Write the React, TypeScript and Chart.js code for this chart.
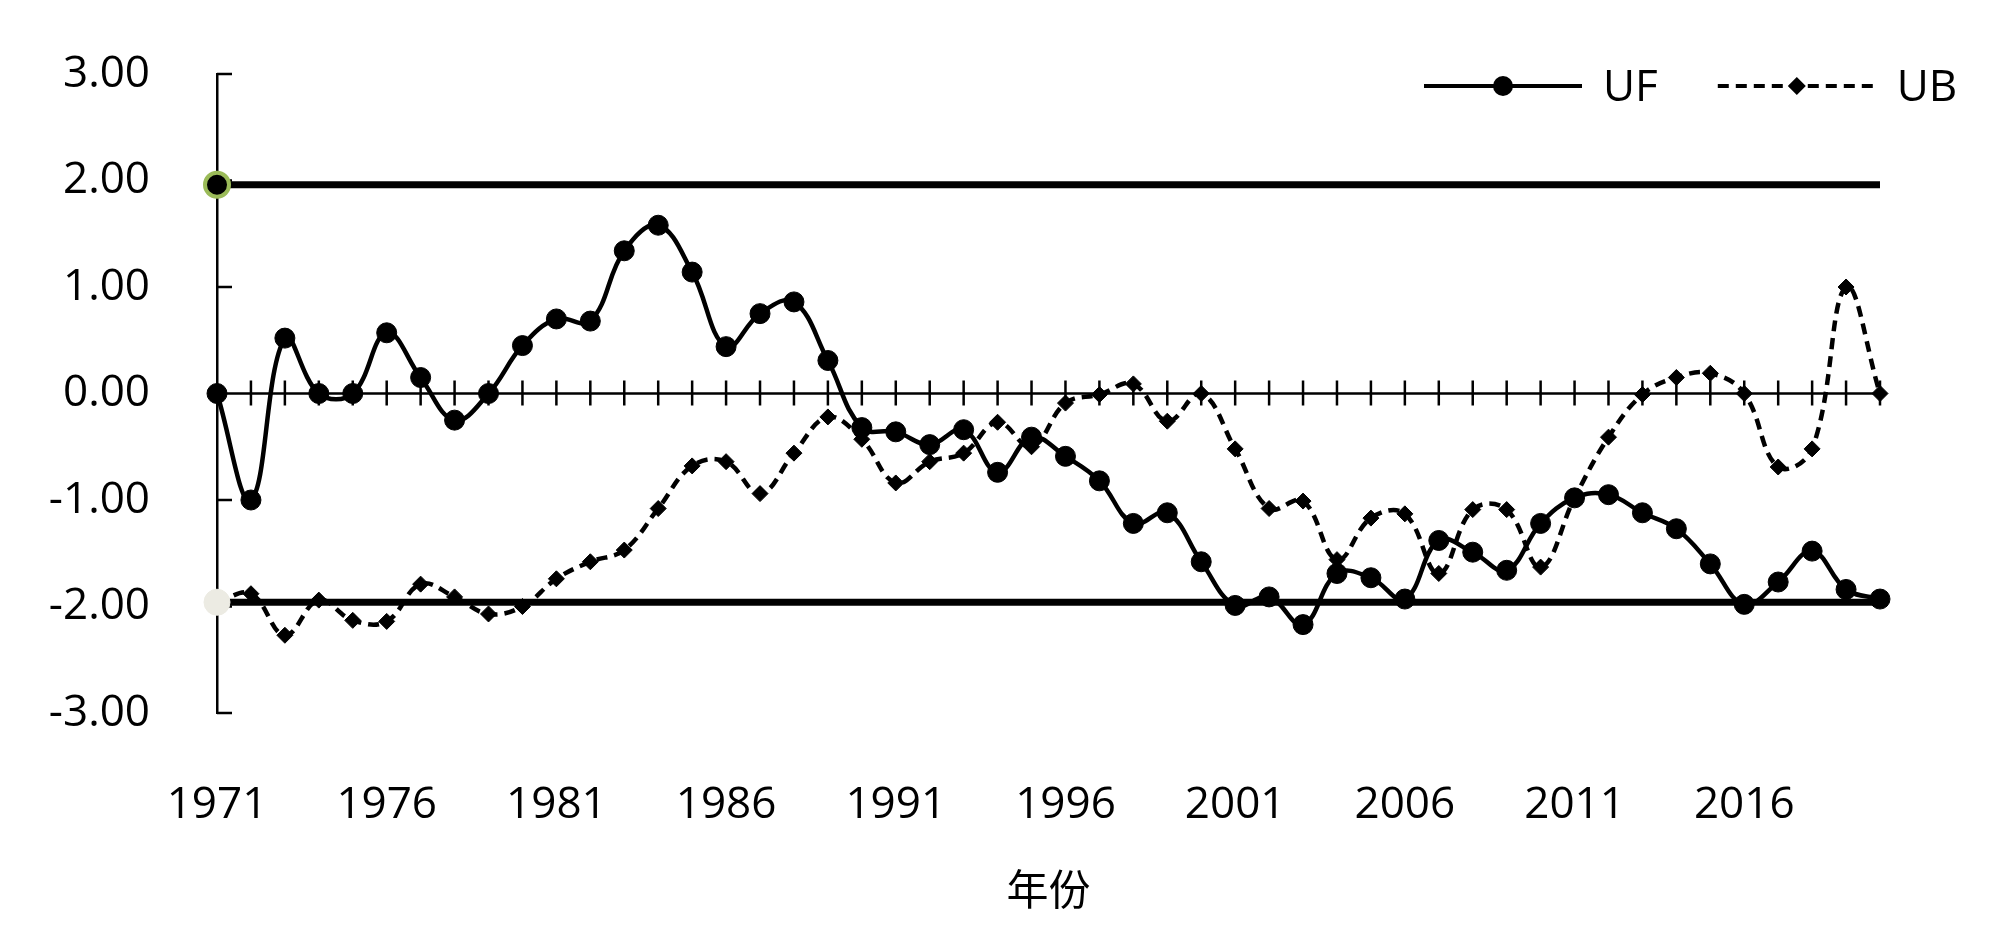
import React, { useEffect, useRef } from "react";
import { Chart, registerables } from "chart.js";

Chart.register(...registerables);

const YEARS = [
  "1971", "1972", "1973", "1974", "1975", "1976", "1977", "1978", "1979", "1980",
  "1981", "1982", "1983", "1984", "1985", "1986", "1987", "1988", "1989", "1990",
  "1991", "1992", "1993", "1994", "1995", "1996", "1997", "1998", "1999", "2000",
  "2001", "2002", "2003", "2004", "2005", "2006", "2007", "2008", "2009", "2010",
  "2011", "2012", "2013", "2014", "2015", "2016", "2017", "2018", "2019", "2020",
];

const UF = [
  0.0, -1.0, 0.52, 0.0, 0.0, 0.57, 0.15, -0.25, 0.0, 0.45,
  0.7, 0.68, 1.34, 1.58, 1.14, 0.44, 0.75, 0.86, 0.31, -0.32,
  -0.36, -0.48, -0.34, -0.74, -0.41, -0.59, -0.82, -1.22, -1.12, -1.58,
  -1.99, -1.91, -2.17, -1.69, -1.73, -1.93, -1.38, -1.49, -1.66, -1.22,
  -0.98, -0.95, -1.12, -1.27, -1.6, -1.98, -1.77, -1.48, -1.84, -1.93,
];

const UB = [
  -1.96, -1.88, -2.27, -1.94, -2.13, -2.14, -1.79, -1.91, -2.07, -2.0,
  -1.74, -1.58, -1.47, -1.08, -0.68, -0.64, -0.94, -0.56, -0.22, -0.43,
  -0.84, -0.64, -0.56, -0.27, -0.5, -0.09, -0.01, 0.09, -0.26, 0.0,
  -0.52, -1.08, -1.01, -1.56, -1.17, -1.13, -1.69, -1.09, -1.09, -1.63,
  -0.98, -0.41, -0.01, 0.15, 0.19, 0.0, -0.69, -0.52, 1.0, 0.0,
];

const CRITICAL_UPPER = 1.96;
const CRITICAL_LOWER = -1.96;
const Y_TICKS = [-3, -2, -1, 0, 1, 2, 3];
const X_LABEL_EVERY = 5;
const X_TITLE = "年份";

const FONT = "'Open Sans', 'Noto Sans', sans-serif";

const axisDecor = {
  id: "axisDecor",
  beforeDatasetsDraw(chart: any) {
    const { ctx, scales, chartArea } = chart;
    const x = scales.x;
    const y = scales.y;
    const y0 = y.getPixelForValue(0);
    ctx.save();
    ctx.strokeStyle = "#000";
    ctx.lineWidth = 2.5;
    ctx.beginPath();
    ctx.moveTo(x.getPixelForValue(0), y0);
    ctx.lineTo(x.getPixelForValue(YEARS.length - 1), y0);
    for (let i = 1; i < YEARS.length; i++) {
      const px = x.getPixelForValue(i);
      ctx.moveTo(px, y0 - 13);
      ctx.lineTo(px, y0 + 12);
    }
    for (const v of Y_TICKS) {
      const py = y.getPixelForValue(v);
      ctx.moveTo(chartArea.left, py);
      ctx.lineTo(chartArea.left + 15, py);
    }
    ctx.stroke();
    ctx.restore();
  },
};

const customLegend = {
  id: "customLegend",
  afterDraw(chart: any) {
    const { ctx } = chart;
    const items = chart.data.datasets.filter((d: any) => d.inLegend);
    const lineLen = 158;
    const cy = 86;
    let xPos = 1424;
    ctx.save();
    ctx.font = `44px ${FONT}`;
    ctx.textBaseline = "middle";
    ctx.fillStyle = "#000";
    for (const d of items) {
      ctx.strokeStyle = "#000";
      ctx.lineWidth = 4;
      ctx.setLineDash(d.borderDash || []);
      ctx.beginPath();
      ctx.moveTo(xPos, cy);
      ctx.lineTo(xPos + lineLen, cy);
      ctx.stroke();
      ctx.setLineDash([]);
      const mx = xPos + lineLen / 2;
      ctx.beginPath();
      if (d.pointStyle === "rectRot") {
        const r = 9;
        ctx.moveTo(mx - r, cy);
        ctx.lineTo(mx, cy - r);
        ctx.lineTo(mx + r, cy);
        ctx.lineTo(mx, cy + r);
        ctx.closePath();
      } else {
        ctx.arc(mx, cy, 10, 0, Math.PI * 2);
      }
      ctx.fill();
      const tx = xPos + lineLen + 21;
      ctx.fillText(d.label, tx, cy + 2);
      const w = ctx.measureText(d.label).width;
      xPos = tx + w + 60;
    }
    ctx.restore();
  },
};

export default function App() {
  const ref = useRef<HTMLCanvasElement | null>(null);

  useEffect(() => {
    if (!ref.current) return;
    Chart.defaults.color = "#000";
    const chart = new Chart(ref.current, {
      type: "line",
      data: {
        labels: YEARS,
        datasets: [
          {
            label: "upper",
            data: [
              { x: YEARS[0], y: CRITICAL_UPPER },
              { x: YEARS[YEARS.length - 1], y: CRITICAL_UPPER },
            ],
            borderColor: "#000",
            borderWidth: 7,
            pointRadius: [12, 0],
            pointBorderWidth: 4,
            pointBackgroundColor: "#000",
            pointBorderColor: "#9bbb59",
            tension: 0,
            clip: false,
          } as any,
          {
            label: "lower",
            data: [
              { x: YEARS[0], y: CRITICAL_LOWER },
              { x: YEARS[YEARS.length - 1], y: CRITICAL_LOWER },
            ],
            borderColor: "#000",
            borderWidth: 7,
            pointRadius: [13, 0],
            pointBorderWidth: 1,
            pointBackgroundColor: "#ecebe3",
            pointBorderColor: "#ecebe3",
            tension: 0,
            clip: false,
          } as any,
          {
            label: "UF",
            inLegend: true,
            data: UF,
            borderColor: "#000",
            borderWidth: 4.5,
            pointStyle: "circle",
            pointRadius: 10,
            pointBorderWidth: 1,
            pointBackgroundColor: "#000",
            pointBorderColor: "#000",
            tension: 0.4,
            clip: false,
          } as any,
          {
            label: "UB",
            inLegend: true,
            data: UB,
            borderColor: "#000",
            borderWidth: 4.5,
            borderDash: [11, 7],
            pointStyle: "rectRot",
            pointRadius: 8,
            pointBorderWidth: 1,
            pointBackgroundColor: "#000",
            pointBorderColor: "#000",
            tension: 0.4,
            clip: false,
          } as any,
        ],
      },
      options: {
        responsive: false,
        animation: false,
        devicePixelRatio: 1,
        layout: { padding: { top: 74, right: 120, left: 0, bottom: 0 } },
        plugins: {
          legend: { display: false },
          tooltip: { enabled: false },
        },
        scales: {
          x: {
            type: "category",
            grid: { display: false },
            border: { display: false },
            ticks: {
              autoSkip: false,
              maxRotation: 0,
              minRotation: 0,
              padding: 58,
              font: { family: FONT, size: 44 },
              color: "#000",
              callback: (_v: any, i: number) => (i % X_LABEL_EVERY === 0 ? YEARS[i] : ""),
            },
            title: {
              display: true,
              text: X_TITLE,
              color: "#000",
              font: { family: "'Noto Sans CJK SC', sans-serif", size: 42 },
              padding: { top: 0, bottom: 28 },
            },
            afterFit: (s: any) => {
              s.height = 229;
              s.paddingLeft = 0;
              s.paddingRight = 0;
            },
          },
          y: {
            min: -3,
            max: 3,
            grid: { display: false, drawTicks: false },
            border: { display: true, color: "#000", width: 2.5 },
            ticks: {
              stepSize: 1,
              padding: 67,
              font: { family: FONT, size: 44 },
              color: "#000",
              callback: (v: any) => Number(v).toFixed(2),
            },
            afterFit: (s: any) => {
              s.width = 217;
              s.paddingTop = 0;
              s.paddingBottom = 0;
            },
          },
        },
      },
      plugins: [axisDecor, customLegend],
    });
    return () => chart.destroy();
  }, []);

  return (
    <div style={{ position: "absolute", left: 0, top: 0, width: 2000, height: 942, background: "#fff" }}>
      <canvas ref={ref} width={2000} height={942} style={{ display: "block" }} />
    </div>
  );
}
